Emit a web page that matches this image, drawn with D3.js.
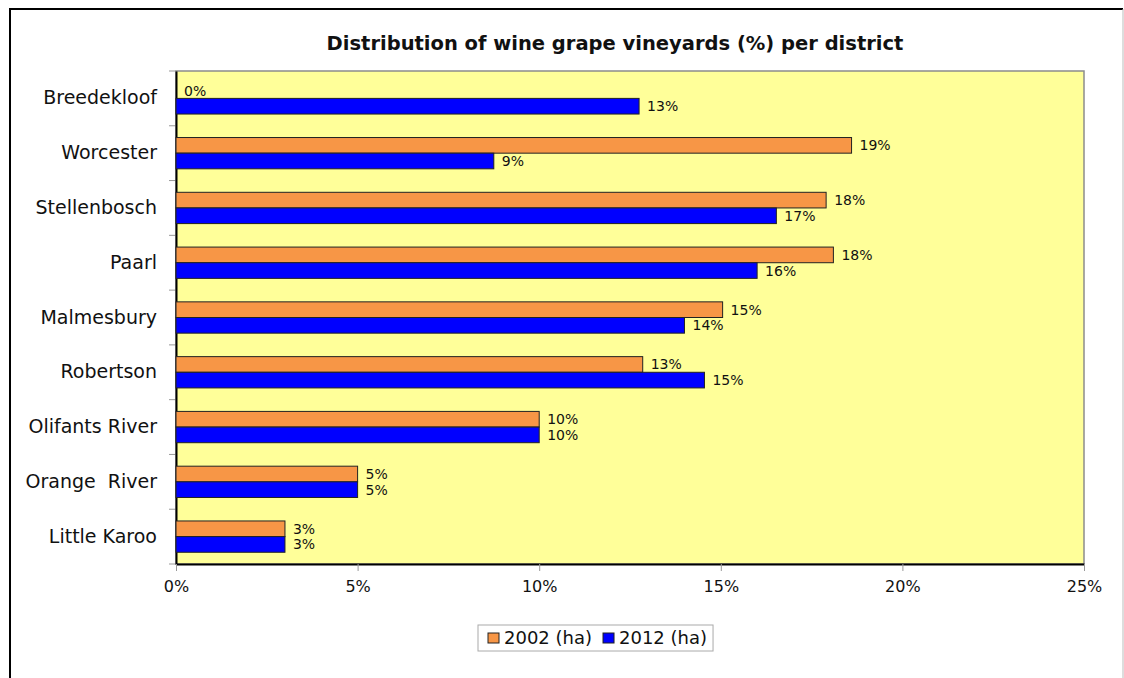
<!DOCTYPE html>
<html>
<head>
<meta charset="utf-8">
<script src="https://cdn.jsdelivr.net/npm/d3@7"></script>
<style>
  body { margin: 0; background: #fff; }
  text { font-family: "DejaVu Sans", Verdana, sans-serif; fill: #111; white-space: pre; }
</style>
</head>
<body>
<div id="canvas"></div>
<script>
// data (percent of total area)
var districts = ["Breedekloof", "Worcester", "Stellenbosch", "Paarl", "Malmesbury",
  "Robertson", "Olifants River", "Orange  River", "Little Karoo"];
var series = ["2002 (ha)", "2012 (ha)"];
var values2002 = [0, 18.6, 17.9, 18.1, 15.05, 12.85, 10, 5, 3];
var values2012 = [12.75, 8.75, 16.53, 16.0, 14.0, 14.55, 10, 5, 3];
var xTicks = [0, 5, 10, 15, 20, 25];
var colors = ["#F79646", "#0000FF"];

var W = 1124, H = 678;
var plot = {left: 176, right: 1084, top: 71, bottom: 564};

var rows = districts.map(function (d, i) {
  return {name: d, vals: [values2002[i], values2012[i]]};
});

var svg = d3.select("#canvas").append("svg")
  .attr("width", W)
  .attr("height", H);

svg.append("rect").attr("width", W).attr("height", H).attr("fill", "#fff");

// chart area border
svg.append("line").attr("x1", 10).attr("y1", 9).attr("x2", 10).attr("y2", H)
  .attr("stroke", "#000").attr("stroke-width", 2);
svg.append("line").attr("x1", 9).attr("y1", 9).attr("x2", 1123).attr("y2", 9)
  .attr("stroke", "#000").attr("stroke-width", 2);
svg.append("line").attr("x1", 1123).attr("y1", 9).attr("x2", 1123).attr("y2", H)
  .attr("stroke", "#bbb").attr("stroke-width", 1);

svg.append("text")
  .attr("x", 615).attr("y", 50)
  .attr("text-anchor", "middle")
  .style("font-size", "19.5px")
  .style("font-weight", "bold")
  .text("Distribution of wine grape vineyards (%) per district");

var x = d3.scaleLinear().domain([0, 25]).range([plot.left, plot.right]);

var y = d3.scaleBand()
  .domain(districts)
  .range([plot.top, plot.bottom])
  .padding(0);

var inner = d3.scaleBand()
  .domain([0, 1])
  .range([0, y.bandwidth()])
  .paddingInner(0)
  .paddingOuter(0.75);

// plot area
svg.append("rect")
  .attr("x", plot.left).attr("y", plot.top)
  .attr("width", plot.right - plot.left).attr("height", plot.bottom - plot.top)
  .attr("fill", "#FFFF99")
  .attr("stroke", "#8c8c8c").attr("stroke-width", 1.5);

// category ticks sit between the categories
var bounds = d3.range(districts.length + 1).map(function (i) {
  return plot.top + i * y.step();
});
svg.append("g").selectAll("line")
  .data(bounds)
  .enter().append("line")
  .attr("x1", plot.left - 7).attr("x2", plot.left)
  .attr("y1", function (d) { return d; })
  .attr("y2", function (d) { return d; })
  .attr("stroke", "#999");

var yAxis = svg.append("g")
  .attr("transform", "translate(" + plot.left + ",0)")
  .call(d3.axisLeft(y).tickSize(0).tickPadding(19));
yAxis.select(".domain").attr("stroke", "#000").attr("stroke-width", 2);
yAxis.selectAll("text").style("font-size", "19px")
  .style("font-family", "DejaVu Sans").attr("fill", "#111");

var xAxis = svg.append("g")
  .attr("transform", "translate(0," + plot.bottom + ")")
  .call(d3.axisBottom(x).tickValues(xTicks)
    .tickFormat(function (d) { return d + "%"; })
    .tickSize(7).tickSizeOuter(0).tickPadding(10));
xAxis.select(".domain").attr("stroke", "#000").attr("stroke-width", 2);
xAxis.selectAll(".tick line").attr("stroke", "#999");
xAxis.selectAll("text").style("font-size", "16px")
  .style("font-family", "DejaVu Sans").attr("fill", "#111");

// bars
var groups = svg.append("g").selectAll("g")
  .data(rows)
  .enter().append("g")
  .attr("transform", function (d) { return "translate(0," + y(d.name) + ")"; });

groups.selectAll("rect")
  .data(function (d) { return d.vals; })
  .enter().append("rect")
  .attr("x", x(0))
  .attr("y", function (d, i) { return inner(i); })
  .attr("width", function (d) { return x(d) - x(0); })
  .attr("height", inner.bandwidth())
  .attr("fill", function (d, i) { return colors[i]; })
  .attr("stroke", function (d) { return d > 0 ? "#222" : "none"; })
  .attr("stroke-width", 1);

groups.selectAll("text")
  .data(function (d) { return d.vals; })
  .enter().append("text")
  .attr("x", function (d) { return x(d) + 8; })
  .attr("y", function (d, i) { return inner(i) + inner.bandwidth() / 2 + 5; })
  .style("font-size", "14px")
  .text(function (d) { return Math.round(d) + "%"; });

// legend
var legend = svg.append("g");
var box = legend.append("rect")
  .attr("x", 478).attr("y", 625)
  .attr("height", 26)
  .attr("fill", "none").attr("stroke", "#aaa");
var lx = 488, ly = 638;
series.forEach(function (s, i) {
  var item = legend.append("g").attr("transform", "translate(" + lx + ",0)");
  item.append("rect")
    .attr("x", 0).attr("y", ly - 5)
    .attr("width", 11).attr("height", 10)
    .attr("fill", colors[i]).attr("stroke", "#222");
  var t = item.append("text")
    .attr("x", 16).attr("y", ly + 6)
    .style("font-size", "18px")
    .text(s);
  lx += 16 + t.node().getComputedTextLength() + (i === 0 ? 11 : 6);
});
box.attr("width", lx - 478);
</script>
</body>
</html>
